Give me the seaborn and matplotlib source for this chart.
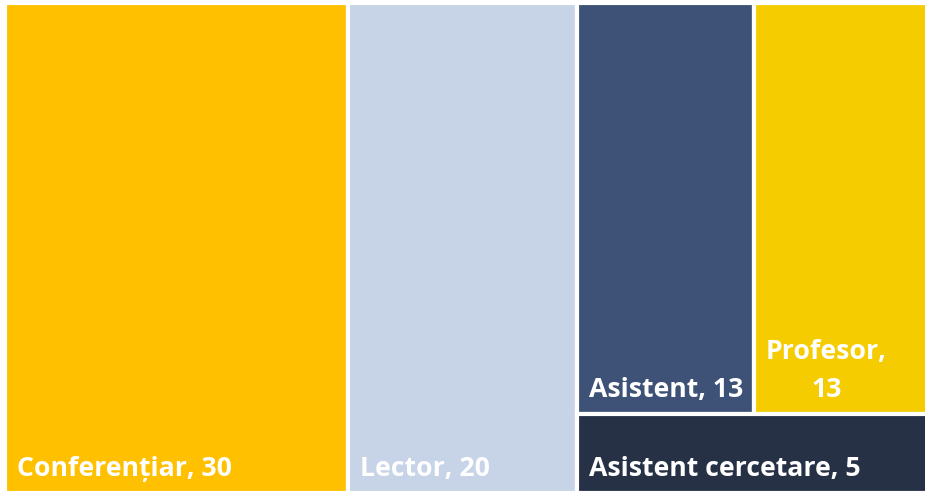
import matplotlib.pyplot as plt
from matplotlib.patches import Rectangle
import seaborn as sns

# data
labels = ["Conferențiar, 30", "Lector, 20", "Asistent, 13", "Profesor,\n13", "Asistent cercetare, 5"]
values = [30, 20, 13, 13, 5]
colors = ["#FFC000", "#C7D3E6", "#3E5176", "#F4CC00", "#263146"]
# nesting of the tiles: columns, then rows, then columns
layout = [0, 1, [[2, 3], 4]]

sns.set_theme(style="white")
plt.rcParams['font.family'] = ['Open Sans', 'DejaVu Sans']


def node_total(node):
    if isinstance(node, list):
        return sum(node_total(n) for n in node)
    return values[node]


def place(node, x, y, w, h, horizontal, out):
    # slice-and-dice layout, alternating direction at each level
    if not isinstance(node, list):
        out[node] = (x, y, w, h)
        return
    total = node_total(node)
    pos = 0.0
    for child in node:
        frac = node_total(child) / total
        if horizontal:
            place(child, x + pos * w, y, w * frac, h, not horizontal, out)
        else:
            place(child, x, y + pos * h, w, h * frac, not horizontal, out)
        pos += frac


fig = plt.figure(figsize=(9.25, 4.91), dpi=100)
ax = fig.add_axes([5 / 925, -2 / 491, 926 / 925, 490 / 491])

total = node_total(layout)
height = total * 490 / 926
rects = {}
place(layout, 0, 0, total, height, True, rects)

for i in range(len(values)):
    x, y, w, h = rects[i]
    ax.add_patch(Rectangle((x, y), w, h, facecolor=colors[i], edgecolor="white", linewidth=3))
    ax.annotate(labels[i], (x, y + h), xytext=(12, 11), textcoords="offset pixels",
                ha="left", va="bottom", color="white", fontsize=19.2, fontweight="bold",
                multialignment="center", linespacing=1.6)

ax.set_xlim(0, total)
ax.set_ylim(height, 0)
ax.axis("off")

plt.savefig("out.png", dpi=100)
